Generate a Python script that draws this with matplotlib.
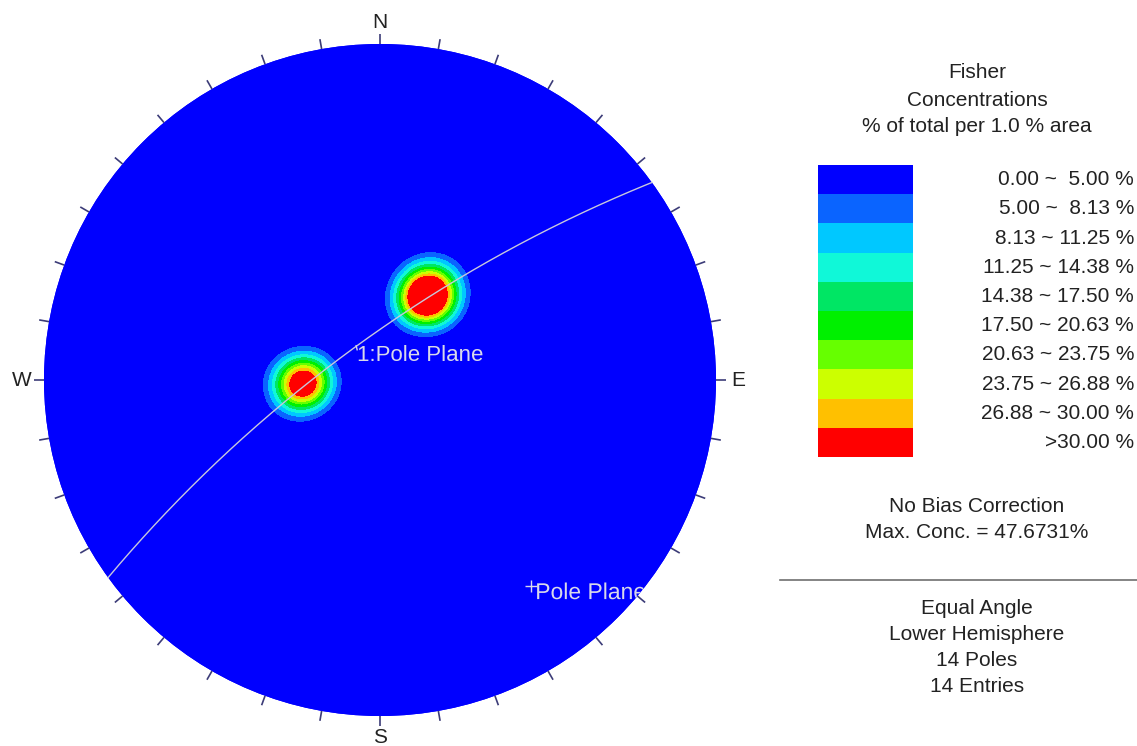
import numpy as np
import matplotlib
matplotlib.use('Agg')
import matplotlib.pyplot as plt
from matplotlib.patches import Circle, Rectangle, PathPatch
from matplotlib.textpath import TextPath
from matplotlib.font_manager import FontProperties

plt.rcParams['font.family'] = ['Liberation Sans', 'DejaVu Sans']

# poles (trend / plunge, degrees), lower hemisphere
pole_trend = [27, 33, 30, 35, 25, 31, 29, 24, 262, 270, 266, 264, 271, 272]
pole_plunge = [57, 58, 55, 59, 58, 54, 60, 63, 62, 65, 61, 66, 63, 68]

# plane "1:Pole Plane" (dip direction / dip)
plane_dipdir = 324
plane_dip = 76

fisher_k = 100

levels = [0.00, 5.00, 8.13, 11.25, 14.38, 17.50, 20.63, 23.75, 26.88, 30.00]
level_colors = ['#0000ff', '#0a64ff', '#00c8ff', '#10f8d8', '#00e664',
                '#00f000', '#66ff00', '#ccff00', '#ffc000', '#ff0000']
level_labels = ['0.00 ~  5.00 %', '5.00 ~  8.13 %', '8.13 ~ 11.25 %',
                '11.25 ~ 14.38 %', '14.38 ~ 17.50 %', '17.50 ~ 20.63 %',
                '20.63 ~ 23.75 %', '23.75 ~ 26.88 %', '26.88 ~ 30.00 %',
                '>30.00 %']

compass = ['N', 'E', 'S', 'W']
info_top = ['No Bias Correction', 'Max. Conc. = 47.6731%']
info_bottom = ['Equal Angle', 'Lower Hemisphere', '14 Poles', '14 Entries']


def to_vec(trend, plunge):
    t = np.radians(trend)
    p = np.radians(plunge)
    return np.stack([np.cos(p) * np.cos(t), np.cos(p) * np.sin(t), np.sin(p)], axis=-1)


def project(trend, plunge):
    # equal angle (stereographic)
    r = np.tan(np.radians(90 - np.asarray(plunge)) / 2)
    t = np.radians(trend)
    return r * np.sin(t), r * np.cos(t)


fig = plt.figure(figsize=(11.37, 7.46), dpi=100)

# overlay axes in pixel coords for the legend
lax = fig.add_axes([0, 0, 1, 1])
lax.set_xlim(0, 1137)
lax.set_ylim(746, 0)
lax.axis('off')

lim = 1.08
ax = fig.add_axes([17.1 / 1137, 3.1 / 746, 725.8 / 1137, 725.8 / 746])
ax.set_xlim(-lim, lim)
ax.set_ylim(-lim, lim)
ax.axis('off')

circ = Circle((0, 0), 1, facecolor=level_colors[0], edgecolor='none', zorder=1)
ax.add_patch(circ)

# fisher density on a grid
g = np.linspace(-1.01, 1.01, 500)
gx, gy = np.meshgrid(g, g)
gr = np.hypot(gx, gy)
g_plunge = 90 - 2 * np.degrees(np.arctan(gr))
g_trend = np.degrees(np.arctan2(gx, gy))
gv = to_vec(g_trend, g_plunge)
pv = to_vec(np.array(pole_trend), np.array(pole_plunge))
dots = np.abs(gv @ pv.T)
dens = fisher_k / len(pole_trend) * np.exp(fisher_k * (dots - 1)).sum(axis=-1)

cs = ax.contourf(gx, gy, dens, levels=levels + [max(dens.max(), 30) + 1],
                 colors=level_colors, zorder=2)
cs.set_clip_path(circ)

# great circle
phi = np.linspace(0, np.pi, 300)
sv = to_vec(plane_dipdir - 90, 0)
dv = to_vec(plane_dipdir, plane_dip)
vv = np.outer(np.cos(phi), sv) + np.outer(np.sin(phi), dv)
vv[vv[:, 2] < 0] *= -1
gc_plunge = np.degrees(np.arcsin(np.clip(vv[:, 2], -1, 1)))
gc_trend = np.degrees(np.arctan2(vv[:, 1], vv[:, 0]))
gcx, gcy = project(gc_trend, gc_plunge)
ax.plot(gcx, gcy, color='#c8c8dc', lw=1, zorder=3)

lab_col = '#d8d8ea'
ax.text(-0.068, 0.074, '1:Pole Plane', color=lab_col, fontsize=16,
        ha='left', va='center', zorder=4)
ax.plot([-0.071, -0.068], [0.102, 0.090], color=lab_col, lw=1, zorder=4)

# second label, cut by the primitive circle
ax.plot([0.449], [-0.612], marker='+', color=lab_col, ms=9, mew=1, zorder=4)
fs_data = 16.5 * 100 / 72 / 336
tp = TextPath((0.462, -0.652), 'Pole Plane', size=fs_data,
              prop=FontProperties(family='Liberation Sans'))
pp = PathPatch(tp, facecolor=lab_col, edgecolor='none', zorder=4)
ax.add_patch(pp)
pp.set_clip_path(circ)

# ticks every 10 degrees
for az in range(0, 360, 10):
    a = np.radians(az)
    ax.plot([np.sin(a), 1.03 * np.sin(a)], [np.cos(a), 1.03 * np.cos(a)],
            color='#3c3c78', lw=1.2, zorder=3, solid_capstyle='butt')

for i, lab in enumerate(compass):
    a = np.radians(i * 90)
    ax.text(1.065 * np.sin(a), 1.065 * np.cos(a), lab, fontsize=15,
            ha='center', va='center', color='#222222')

# legend
txt_col = '#222222'
lax.text(977, 73, 'Fisher', fontsize=15, ha='center', va='center', color=txt_col)
lax.text(977, 100, 'Concentrations', fontsize=15, ha='center', va='center', color=txt_col)
lax.text(977, 126, '% of total per 1.0 % area', fontsize=15, ha='center', va='center',
         color=txt_col)

box_h = (457 - 165) / len(level_colors)
for i, (c, lab) in enumerate(zip(level_colors, level_labels)):
    y0 = 165 + i * box_h
    lax.add_patch(Rectangle((818, y0), 95, box_h, facecolor=c, edgecolor='none'))
    lax.text(1134, y0 + box_h / 2, lab, fontsize=15, ha='right', va='center',
             color=txt_col)

for i, s in enumerate(info_top):
    lax.text(977, 507 + i * 25, s, fontsize=15, ha='center', va='center', color=txt_col)

lax.plot([780, 1137], [580, 580], color='#707070', lw=1.2)

for i, s in enumerate(info_bottom):
    lax.text(977, 608 + i * 26.3, s, fontsize=15, ha='center', va='center', color=txt_col)

fig.savefig('out.png', dpi=100)
